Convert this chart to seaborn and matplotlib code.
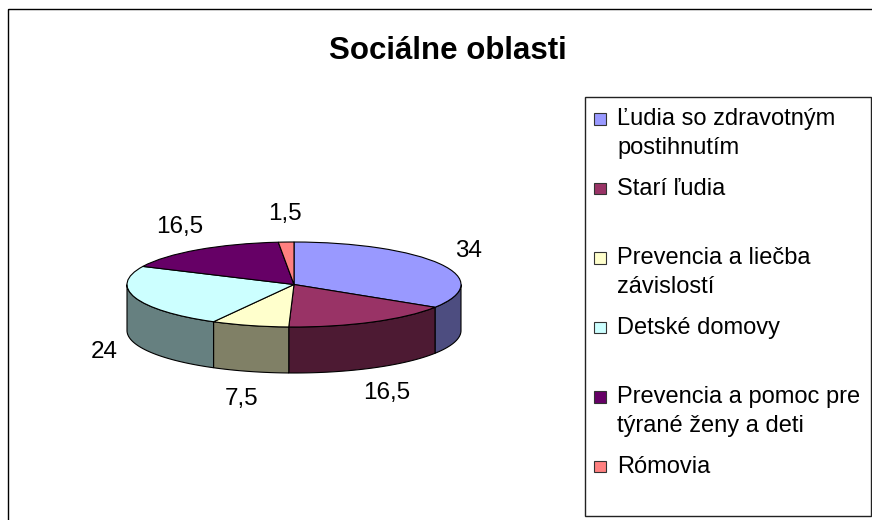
import numpy as np
import matplotlib
matplotlib.use("Agg")
import matplotlib.pyplot as plt
import seaborn as sns
from matplotlib.patches import Rectangle

# data
oblasti = ["Ľudia so zdravotným\npostihnutím", "Starí ľudia",
           "Prevencia a liečba\nzávislostí", "Detské domovy",
           "Prevencia a pomoc pre\ntýrané ženy a deti", "Rómovia"]
podiel = [34, 16.5, 7.5, 24, 16.5, 1.5]
popisky = ["34", "16,5", "7,5", "24", "16,5", "1,5"]
farby = ["#9999FF", "#993366", "#FFFFCC", "#CCFFFF", "#660066", "#FF8080"]

sns.set_style("white")
plt.rcParams["font.family"] = ["Liberation Sans", "DejaVu Sans"]
plt.rcParams["text.color"] = "black"

W, H = 872, 520
fig = plt.figure(figsize=(W / 100, H / 100), dpi=100)
fig.patch.set_facecolor("white")

# layout axes in pixels
lay = fig.add_axes([0, 0, 1, 1])
lay.set_xlim(0, W)
lay.set_ylim(H, 0)
lay.axis("off")

# pie axes: unit circle shown as flat ellipse
cx, cy, rx, ry, hloubka = 294, 284.5, 167, 42.5, 46
pax = fig.add_axes([0, 0, 1, 1])
pax.patch.set_visible(False)
wedges, _ = pax.pie(podiel, colors=farby, startangle=90, counterclock=False,
                    wedgeprops=dict(edgecolor="black", linewidth=0.8, zorder=3))
pax.set_aspect("auto")
pax.set_xlim(-cx / rx, (W - cx) / rx)
pax.set_ylim((cy - H) / ry, cy / ry)
pax.axis("off")
d = hloubka / ry

# side walls of the 3D pie
def stena(t1, t2):
    segs = []
    for k in (-1, 0, 1):
        a, b = max(t1, -180 + 360 * k), min(t2, 360 * k)
        if b > a:
            segs.append((a, b))
    return segs

for w, c in zip(wedges, farby):
    rgb = np.array(matplotlib.colors.to_rgb(c)) * 0.5
    for a, b in stena(w.theta1, w.theta2):
        t = np.radians(np.linspace(a, b, 120))
        xs = np.concatenate([np.cos(t), np.cos(t[::-1])])
        ys = np.concatenate([np.sin(t), np.sin(t[::-1]) - d])
        pax.fill(xs, ys, facecolor=rgb, edgecolor="black", linewidth=0.8, zorder=1)

# value labels
for w, txt in zip(wedges, popisky):
    th = np.radians((w.theta1 + w.theta2) / 2)
    x = np.cos(th) + 32 * np.cos(th) / rx
    y = np.sin(th) + 28 * np.sin(th) / ry
    if np.sin(th) < 0:
        y -= d
    pax.text(x, y, txt, ha="center", va="center", fontsize=17.5, zorder=5)

# outer frame and title
lay.add_patch(Rectangle((8, 9), W + 10, H + 10, fill=False, edgecolor="black", linewidth=1))
lay.text(448, 59, "Sociálne oblasti", ha="center", va="baseline",
         fontsize=22.5, fontweight="bold")

# legend
lay.add_patch(Rectangle((585, 97), 286, 419, fill=False, edgecolor="#222222", linewidth=1))
for i, (lab, c) in enumerate(zip(oblasti, farby)):
    ym = 118.5 + i * 69.5
    lay.add_patch(Rectangle((594, ym - 5.5), 11.5, 11.5, facecolor=c,
                            edgecolor="#333333", linewidth=0.8))
    for j, line in enumerate(lab.split("\n")):
        lay.text(617, ym + 7 + j * 28.5, line, ha="left", va="baseline", fontsize=17)

fig.savefig("out.png", dpi=100)
